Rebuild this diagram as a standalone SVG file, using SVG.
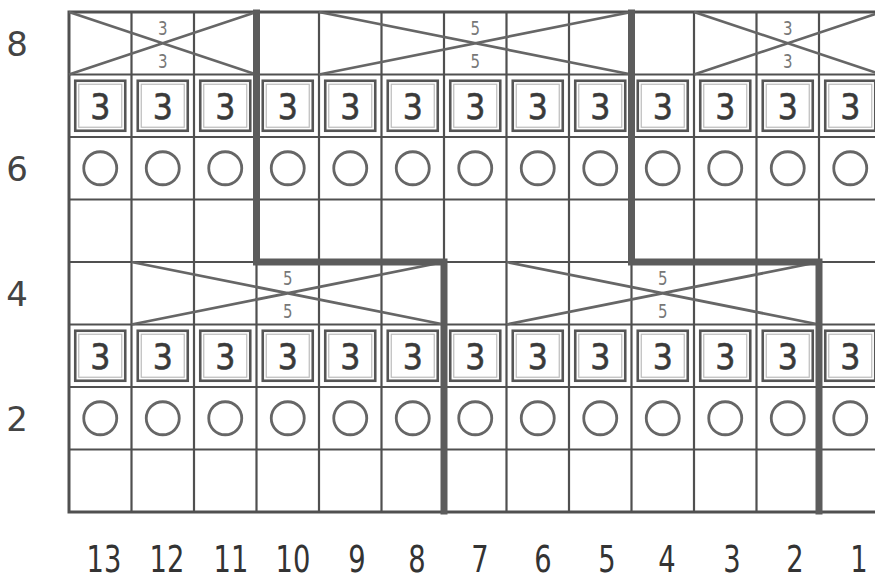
<svg xmlns="http://www.w3.org/2000/svg" width="875" height="581" viewBox="0 0 875 581">
<style>
.grid{stroke:#505050;stroke-width:2.2;fill:none}
.frame{stroke:#505050;stroke-width:3;fill:none}
.cross{stroke:#666;stroke-width:2.7;fill:none}
.thick{stroke:#5c5c5c;stroke-width:7;fill:none;stroke-linejoin:miter;stroke-linecap:square}
.box{stroke:#555;stroke-width:2.6;fill:none}
.boxin{stroke:#bbb;stroke-width:1.2;fill:none}
.ring{stroke:#666;stroke-width:2.8;fill:none}
.big{font-family:"DejaVu Sans","Liberation Sans",sans-serif;font-size:36px;fill:#3a3a3a;stroke:#3a3a3a;stroke-width:0.6;text-anchor:middle}
.small{font-family:"DejaVu Sans","Liberation Sans",sans-serif;font-size:20px;fill:#777;text-anchor:middle}
.rowlab{font-family:"DejaVu Sans","Liberation Sans",sans-serif;font-size:34px;fill:#444;text-anchor:middle}
.collab{font-family:"DejaVu Sans","Liberation Sans",sans-serif;font-size:37px;fill:#333;text-anchor:middle}
</style>
<defs>
<g id="knot">
<rect class="box" x="-25" y="-25" width="50" height="50"/>
<rect class="boxin" x="-21.5" y="-21.5" width="43" height="43"/>
<text class="big" transform="scale(0.88,1)" x="0" y="13">3</text>
</g>
<circle id="yo" class="ring" r="16.5"/>
</defs>
<rect x="0" y="0" width="875" height="581" fill="#fff"/>

<g id="grid">
<path class="grid" d="M131.5,12V512M194,12V512M256.5,12V512M319,12V512M381.5,12V512M444,12V512M506.5,12V512M569,12V512M631.5,12V512M694,12V512M756.5,12V512M819,12V512"/>
<path class="grid" d="M69,74.5H876M69,137H876M69,199.5H876M69,262H876M69,324.5H876M69,387H876M69,449.5H876"/>
<path class="frame" d="M876,12H69V512H876"/>
</g>

<g id="row8">
<path class="cross" d="M69,12L256.5,74.5M69,74.5L256.5,12"/>
<text class="small" transform="translate(162.75,35) scale(0.75,1)">3</text>
<text class="small" transform="translate(162.75,67.5) scale(0.75,1)">3</text>
<path class="cross" d="M319,12L631.5,74.5M319,74.5L631.5,12"/>
<text class="small" transform="translate(475.25,35) scale(0.75,1)">5</text>
<text class="small" transform="translate(475.25,67.5) scale(0.75,1)">5</text>
<path class="cross" d="M694,12L881.5,74.5M694,74.5L881.5,12"/>
<text class="small" transform="translate(787.75,35) scale(0.75,1)">3</text>
<text class="small" transform="translate(787.75,67.5) scale(0.75,1)">3</text>
</g>

<g id="row7">
<use href="#knot" x="100.25" y="105.75"/>
<use href="#knot" x="162.75" y="105.75"/>
<use href="#knot" x="225.25" y="105.75"/>
<use href="#knot" x="287.75" y="105.75"/>
<use href="#knot" x="350.25" y="105.75"/>
<use href="#knot" x="412.75" y="105.75"/>
<use href="#knot" x="475.25" y="105.75"/>
<use href="#knot" x="537.75" y="105.75"/>
<use href="#knot" x="600.25" y="105.75"/>
<use href="#knot" x="662.75" y="105.75"/>
<use href="#knot" x="725.25" y="105.75"/>
<use href="#knot" x="787.75" y="105.75"/>
<use href="#knot" x="850.25" y="105.75"/>
</g>

<g id="row6">
<use href="#yo" x="100.25" y="168.25"/>
<use href="#yo" x="162.75" y="168.25"/>
<use href="#yo" x="225.25" y="168.25"/>
<use href="#yo" x="287.75" y="168.25"/>
<use href="#yo" x="350.25" y="168.25"/>
<use href="#yo" x="412.75" y="168.25"/>
<use href="#yo" x="475.25" y="168.25"/>
<use href="#yo" x="537.75" y="168.25"/>
<use href="#yo" x="600.25" y="168.25"/>
<use href="#yo" x="662.75" y="168.25"/>
<use href="#yo" x="725.25" y="168.25"/>
<use href="#yo" x="787.75" y="168.25"/>
<use href="#yo" x="850.25" y="168.25"/>
</g>

<g id="row4">
<path class="cross" d="M131.5,262L444,324.5M131.5,324.5L444,262"/>
<text class="small" transform="translate(287.75,285) scale(0.75,1)">5</text>
<text class="small" transform="translate(287.75,317.5) scale(0.75,1)">5</text>
<path class="cross" d="M506.5,262L819,324.5M506.5,324.5L819,262"/>
<text class="small" transform="translate(662.75,285) scale(0.75,1)">5</text>
<text class="small" transform="translate(662.75,317.5) scale(0.75,1)">5</text>
</g>

<g id="row3">
<use href="#knot" x="100.25" y="355.75"/>
<use href="#knot" x="162.75" y="355.75"/>
<use href="#knot" x="225.25" y="355.75"/>
<use href="#knot" x="287.75" y="355.75"/>
<use href="#knot" x="350.25" y="355.75"/>
<use href="#knot" x="412.75" y="355.75"/>
<use href="#knot" x="475.25" y="355.75"/>
<use href="#knot" x="537.75" y="355.75"/>
<use href="#knot" x="600.25" y="355.75"/>
<use href="#knot" x="662.75" y="355.75"/>
<use href="#knot" x="725.25" y="355.75"/>
<use href="#knot" x="787.75" y="355.75"/>
<use href="#knot" x="850.25" y="355.75"/>
</g>

<g id="row2">
<use href="#yo" x="100.25" y="418.25"/>
<use href="#yo" x="162.75" y="418.25"/>
<use href="#yo" x="225.25" y="418.25"/>
<use href="#yo" x="287.75" y="418.25"/>
<use href="#yo" x="350.25" y="418.25"/>
<use href="#yo" x="412.75" y="418.25"/>
<use href="#yo" x="475.25" y="418.25"/>
<use href="#yo" x="537.75" y="418.25"/>
<use href="#yo" x="600.25" y="418.25"/>
<use href="#yo" x="662.75" y="418.25"/>
<use href="#yo" x="725.25" y="418.25"/>
<use href="#yo" x="787.75" y="418.25"/>
<use href="#yo" x="850.25" y="418.25"/>
</g>

<g id="connectors">
<path class="thick" d="M256.5,13V262H444V511"/>
<path class="thick" d="M631.5,13V262H819V511"/>
</g>

<g id="row-labels">
<text class="rowlab" x="17" y="55.5">8</text>
<text class="rowlab" x="17" y="180.5">6</text>
<text class="rowlab" x="17" y="305.5">4</text>
<text class="rowlab" x="17" y="430.5">2</text>
</g>

<g id="col-labels">
<text class="collab" transform="translate(104,572) scale(0.74,1)">13</text>
<text class="collab" transform="translate(167,572) scale(0.74,1)">12</text>
<text class="collab" transform="translate(231,572) scale(0.74,1)">11</text>
<text class="collab" transform="translate(293,572) scale(0.74,1)">10</text>
<text class="collab" transform="translate(357,572) scale(0.74,1)">9</text>
<text class="collab" transform="translate(417,572) scale(0.74,1)">8</text>
<text class="collab" transform="translate(480,572) scale(0.74,1)">7</text>
<text class="collab" transform="translate(543,572) scale(0.74,1)">6</text>
<text class="collab" transform="translate(607,572) scale(0.74,1)">5</text>
<text class="collab" transform="translate(667,572) scale(0.74,1)">4</text>
<text class="collab" transform="translate(732,572) scale(0.74,1)">3</text>
<text class="collab" transform="translate(795,572) scale(0.74,1)">2</text>
<text class="collab" transform="translate(859,572) scale(0.74,1)">1</text>
</g>
</svg>
